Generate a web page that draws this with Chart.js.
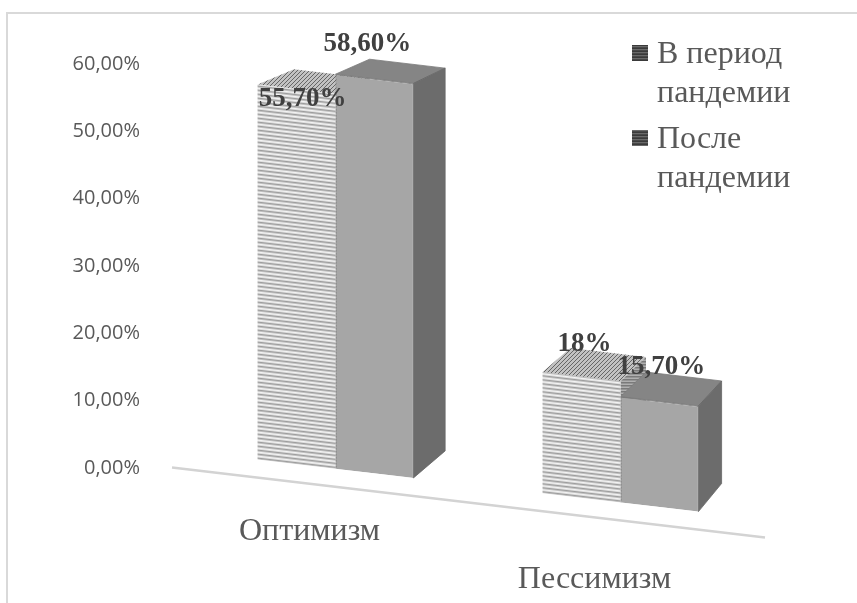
<!DOCTYPE html>
<html><head><meta charset="utf-8">
<script src="https://cdn.jsdelivr.net/npm/chart.js@4.4.1/dist/chart.umd.min.js"></script>
<style>html,body{margin:0;padding:0;background:#fff;}#wrap{width:857px;height:603px;}</style>
</head><body><div id="wrap"><canvas id="c" width="857" height="603"></canvas></div>
<script>
// ---- data ----
const categories = ['Оптимизм', 'Пессимизм'];
const seriesNames = [['В период', 'пандемии'], ['После', 'пандемии']];
const duringPandemic = [0.557, 0.18];
const afterPandemic = [0.586, 0.157];
const duringLabels = ['55,70%', '18%'];
const afterLabels = ['58,60%', '15,70%'];
const yTickLabels = ['0,00%', '10,00%', '20,00%', '30,00%', '40,00%', '50,00%', '60,00%'];
const yMax = 0.6, yStep = 0.1;

// ---- look ----
const K = 0.118, X0 = 329;            // floor slant
const VP = [1470, -425], DEPTH = 0.03; // perspective depth
const S = (x, y) => [x, y + K * (x - X0)];
const back = p => [p[0] + DEPTH * (VP[0] - p[0]), p[1] + DEPTH * (VP[1] - p[1])];

function rowPattern(rows, w) {
  const c = document.createElement('canvas'); c.width = w || 4; c.height = rows.length;
  const g = c.getContext('2d');
  rows.forEach((col, i) => { g.fillStyle = col; g.fillRect(0, i, c.width, 1); });
  return g.createPattern(c, 'repeat');
}
function diagPattern(bg, fg) {
  const c = document.createElement('canvas'); c.width = 4; c.height = 4;
  const g = c.getContext('2d'); g.fillStyle = bg; g.fillRect(0, 0, 4, 4);
  g.fillStyle = fg; for (let i = 0; i < 4; i++) { g.fillRect(i, 3 - i, 1, 1); }
  return g.createPattern(c, 'repeat');
}
const hatchFront = rowPattern(['#f4f4f4', '#dedede', '#9c9c9c', '#c2c2c2']);
const hatchTop = diagPattern('#c2c2c2', '#666666');
const hatchSide = rowPattern(['#b0b0b0', '#7a7a7a', '#959595']);
const legendHatch = rowPattern(['#3a3a3a', '#6a6a6a', '#484848']);
const topFill = [hatchTop, '#858585'];
const sideFill = [hatchSide, '#6c6c6c'];
// label nudges [dataset][category] relative to the bar's top centre
const labelNudge = [[[6, 10], [3, -33]], [[-7, -35], [2, -34]]];
const dataLabels = [duringLabels, afterLabels];

function poly(ctx, pts, fill, stroke) {
  ctx.beginPath(); ctx.moveTo(pts[0][0], pts[0][1]);
  for (let i = 1; i < pts.length; i++) ctx.lineTo(pts[i][0], pts[i][1]);
  ctx.closePath(); ctx.fillStyle = fill; ctx.fill();
  if (stroke) { ctx.strokeStyle = stroke; ctx.lineWidth = 0.8; ctx.stroke(); }
}

const bars3d = {
  id: 'bars3d',
  beforeDatasetsDraw(chart) {
    const ctx = chart.ctx, a = chart.chartArea;
    ctx.save();
    const f1 = S(a.left - 21, a.bottom + 18), f2 = S(a.right + 2, a.bottom + 18);
    ctx.strokeStyle = '#d3d3d3'; ctx.lineWidth = 2.5;
    ctx.beginPath(); ctx.moveTo(f1[0], f1[1]); ctx.lineTo(f2[0], f2[1]); ctx.stroke();
    for (let i = 0; i < categories.length; i++) {
      chart.data.datasets.forEach((ds, di) => {
        const el = chart.getDatasetMeta(di).data[i];
        const p = el.getProps(['x', 'y', 'base', 'width'], true);
        const l = p.x - p.width / 2, r = p.x + p.width / 2;
        const TL = S(l, p.y), TR = S(r, p.y), BR = S(r, p.base);
        poly(ctx, [TL, TR, back(TR), back(TL)], topFill[di], di === 1 ? '#7a7a7a' : null);
        poly(ctx, [TR, BR, back(BR), back(TR)], sideFill[di], di === 1 ? '#666' : null);
      });
    }
    ctx.restore();
    ctx.save();
    ctx.transform(1, K, 0, 1, 0, -K * X0);
  },
  afterDatasetsDraw(chart) {
    const ctx = chart.ctx, a = chart.chartArea;
    ctx.restore();
    ctx.save();
    ctx.font = 'bold 27px "Liberation Serif", "Times New Roman", serif';
    ctx.fillStyle = '#404040'; ctx.textAlign = 'center'; ctx.textBaseline = 'middle';
    chart.data.datasets.forEach((ds, di) => {
      chart.getDatasetMeta(di).data.forEach((el, i) => {
        const p = el.getProps(['x', 'y'], true);
        const s = S(p.x, p.y);
        ctx.fillText(dataLabels[di][i], s[0] + labelNudge[di][i][0], s[1] + labelNudge[di][i][1]);
      });
    });
    ctx.font = '32px "Liberation Serif", "Times New Roman", serif';
    ctx.fillStyle = '#595959';
    const xs = chart.scales.x;
    categories.forEach((c, i) => {
      const x = xs.getPixelForValue(i);
      ctx.fillText(c, x - 26, a.bottom + 63 + 0.168 * (x - X0));
    });
    ctx.textAlign = 'left'; ctx.textBaseline = 'alphabetic';
    let ly = 63;
    seriesNames.forEach((lines, di) => {
      ctx.fillStyle = legendHatch; ctx.fillRect(632, ly - 18, 16, 16);
      ctx.fillStyle = '#595959';
      lines.forEach((t, j) => ctx.fillText(t, 657, ly + j * 39));
      ly += 85;
    });
    ctx.strokeStyle = '#d9d9d9'; ctx.lineWidth = 2;
    ctx.strokeRect(7, 13, 900, 700);
    ctx.restore();
  }
};

new Chart(document.getElementById('c'), {
  type: 'bar',
  data: {
    labels: categories,
    datasets: [
      { label: seriesNames[0].join(' '), data: duringPandemic, backgroundColor: hatchFront, borderWidth: 0, clip: false },
      { label: seriesNames[1].join(' '), data: afterPandemic, backgroundColor: '#a6a6a6', borderColor: '#7c7c7c', borderWidth: 1, clip: false }
    ]
  },
  options: {
    responsive: false, animation: false, events: [], devicePixelRatio: 1,
    layout: { padding: { left: 0, top: 64, right: 94, bottom: 135 } },
    datasets: { bar: { categoryPercentage: 0.547, barPercentage: 1 } },
    plugins: { legend: { display: false }, tooltip: { enabled: false } },
    scales: {
      x: { display: false },
      y: {
        min: 0, max: yMax,
        afterFit: s => { s.width = 193; },
        grid: { display: false }, border: { display: false },
        ticks: {
          stepSize: yStep, padding: 45, color: '#595959',
          font: { family: '"Open Sans", sans-serif', size: 20 },
          callback: (v, i) => yTickLabels[i]
        }
      }
    }
  },
  plugins: [bars3d]
});
</script></body></html>
